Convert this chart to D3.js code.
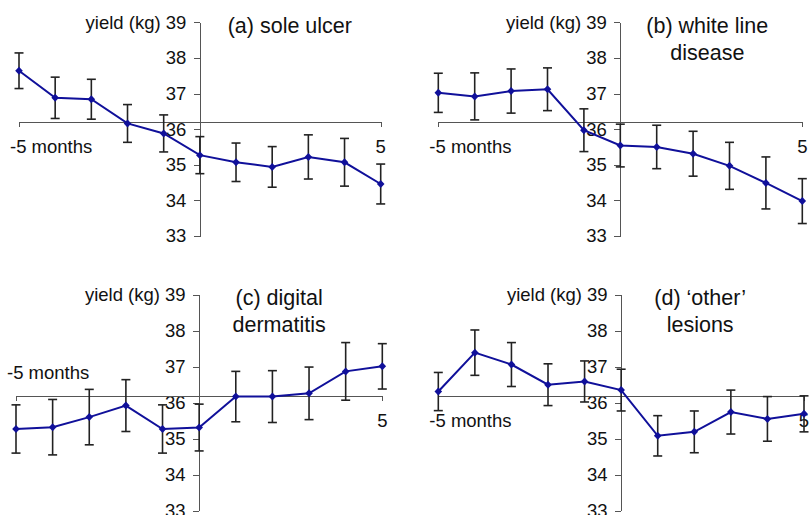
<!DOCTYPE html>
<html>
<head>
<meta charset="utf-8">
<style>
  body { margin: 0; background: #fff; }
  svg { display: block; font-family: "Liberation Sans", Arial, sans-serif; }
  .axis path, .axis line { stroke: #555; stroke-width: 1; shape-rendering: crispEdges; }
  .axis text { font-size: 18.5px; fill: #111; }
</style>
<script src="https://cdn.jsdelivr.net/npm/d3@7"></script>
</head>
<body>
<script>

// Months relative to the lesion, and the y ticks
var months = [-5, -4, -3, -2, -1, 0, 1, 2, 3, 4, 5];
var yTicks = [33, 34, 35, 36, 37, 38, 39];
var crossAt = 36.2;

// Mean yield (kg) and half-width of the error bar for each lesion
var soleUlcer     = [37.64, 36.88, 36.84, 36.16, 35.88, 35.27, 35.07, 34.94, 35.22, 35.07, 34.46];
var soleUlcerErr  = [0.50, 0.58, 0.56, 0.53, 0.52, 0.52, 0.54, 0.57, 0.62, 0.67, 0.56];
var whiteLine     = [37.02, 36.92, 37.07, 37.12, 35.97, 35.54, 35.50, 35.31, 34.97, 34.49, 33.98];
var whiteLineErr  = [0.55, 0.66, 0.62, 0.60, 0.60, 0.60, 0.61, 0.63, 0.66, 0.73, 0.63];
var digital       = [35.27, 35.32, 35.60, 35.92, 35.27, 35.31, 36.17, 36.17, 36.26, 36.87, 37.01];
var digitalErr    = [0.67, 0.77, 0.77, 0.72, 0.67, 0.65, 0.70, 0.72, 0.73, 0.80, 0.63];
var other         = [36.31, 37.39, 37.06, 36.50, 36.59, 36.35, 35.08, 35.19, 35.74, 35.55, 35.69];
var otherErr      = [0.53, 0.63, 0.61, 0.58, 0.57, 0.58, 0.56, 0.58, 0.61, 0.62, 0.50];

var titles = [
  ["(a) sole ulcer"],
  ["(b) white line", "disease"],
  ["(c) digital", "dermatitis"],
  ["(d) \u2018other\u2019", "lesions"]
];
var series = [soleUlcer, whiteLine, digital, other];
var errors = [soleUlcerErr, whiteLineErr, digitalErr, otherErr];

// Where each panel sits on the page
var layout = [
  {x0: 19,    x1: 380.7, y0: 236,   y1: 22.3,  titleDx: 90, monthsAbove: false},
  {x0: 438.3, x1: 802.3, y0: 236,   y1: 22.3,  titleDx: 87, monthsAbove: false},
  {x0: 16,    x1: 382.3, y0: 510.7, y1: 294.7, titleDx: 80, monthsAbove: true},
  {x0: 438.3, x1: 804,   y0: 510.7, y1: 294.7, titleDx: 79, monthsAbove: false}
];

var lineColor = "#10109a";

var svg = d3.select("body").append("svg")
    .attr("width", 810)
    .attr("height", 515);

layout.forEach(function(p, k) {
  var x = d3.scaleLinear().domain([-5, 5]).range([p.x0, p.x1]);
  var y = d3.scaleLinear().domain([33, 39]).range([p.y0, p.y1]);
  var g = svg.append("g");
  var data = months.map((m, i) => ({m: m, v: series[k][i], e: errors[k][i]}));

  // vertical axis through month 0
  g.append("g")
      .attr("class", "axis")
      .attr("transform", `translate(${x(0)},0)`)
      .call(d3.axisLeft(y).tickValues(yTicks).tickSize(6).tickSizeOuter(0).tickPadding(7.5)
        .tickFormat(d => d === 39 ? "yield (kg) 39" : d))
      .call(a => a.selectAll("text").attr("fill", "#111"));

  // horizontal axis, crossing at 36.2, with the end ticks only
  g.append("g")
      .attr("class", "axis")
      .attr("transform", `translate(0,${y(crossAt)})`)
      .call(d3.axisBottom(x).tickValues([]).tickSizeOuter(5));

  var labelY = p.monthsAbove ? y(crossAt) - 16.5 : y(crossAt) + 31;
  g.append("text")
      .attr("x", x(-5) - 9)
      .attr("y", labelY)
      .style("font-size", "18.5px")
      .attr("fill", "#111")
      .text("-5 months");
  g.append("text")
      .attr("x", x(5))
      .attr("y", y(crossAt) + 31)
      .attr("text-anchor", "middle")
      .style("font-size", "18.5px")
      .attr("fill", "#111")
      .text("5");

  // panel title
  titles[k].forEach((t, j) => {
    g.append("text")
        .attr("x", x(0) + p.titleDx)
        .attr("y", y(39) + 10.5 + j * 27)
        .attr("text-anchor", "middle")
        .style("font-size", "21.5px")
        .attr("fill", "#111")
        .text(t);
  });

  // error bars
  var eb = g.selectAll(".err")
      .data(data)
    .enter().append("g")
      .attr("class", "err")
      .attr("stroke", "#222")
      .attr("stroke-width", 1.6);
  eb.append("line")
      .attr("x1", d => x(d.m)).attr("x2", d => x(d.m))
      .attr("y1", d => y(d.v + d.e)).attr("y2", d => y(d.v - d.e));
  eb.append("line")
      .attr("x1", d => x(d.m) - 4.5).attr("x2", d => x(d.m) + 4.5)
      .attr("y1", d => y(d.v + d.e)).attr("y2", d => y(d.v + d.e));
  eb.append("line")
      .attr("x1", d => x(d.m) - 4.5).attr("x2", d => x(d.m) + 4.5)
      .attr("y1", d => y(d.v - d.e)).attr("y2", d => y(d.v - d.e));

  // mean line with diamond markers
  g.append("path")
      .datum(data)
      .attr("fill", "none")
      .attr("stroke", lineColor)
      .attr("stroke-width", 2)
      .attr("d", d3.line().x(d => x(d.m)).y(d => y(d.v)));

  g.selectAll(".pt")
      .data(data)
    .enter().append("path")
      .attr("class", "pt")
      .attr("fill", lineColor)
      .attr("d", "M0,-4L3.8,0L0,4L-3.8,0Z")
      .attr("transform", d => `translate(${x(d.m)},${y(d.v)})`);
});

</script>
</body>
</html>
